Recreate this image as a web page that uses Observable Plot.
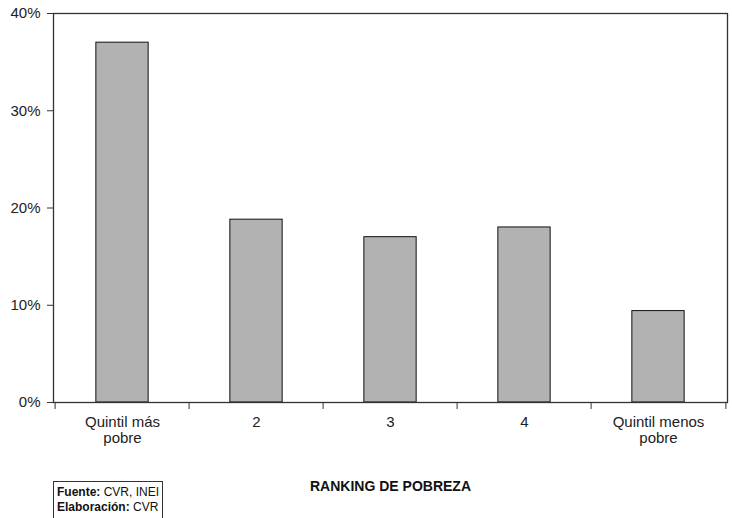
<!DOCTYPE html>
<html><head><meta charset="utf-8">
<script src="https://cdn.jsdelivr.net/npm/d3@7"></script>
<script src="https://cdn.jsdelivr.net/npm/@observablehq/plot@0.6"></script>
<style>
body{margin:0;background:#fff;font-family:"Liberation Sans",Arial,sans-serif;}
#wrap{position:relative;width:732px;height:518px;overflow:hidden;}
#src{position:absolute;left:53px;top:481px;width:105px;border:1px solid #333;padding:3px 0 8px 3px;font-size:12px;line-height:15px;color:#111;}
</style></head><body><div id="wrap"></div>
<script>
const categories = ["Quintil más pobre", "2", "3", "4", "Quintil menos pobre"];
const tickLabels = ["Quintil más\npobre", "2", "3", "4", "Quintil menos\npobre"];
const values = [37.0, 18.8, 17.0, 18.0, 9.4];
const yTicks = [0, 10, 20, 30, 40];
const xTitle = "RANKING DE POBREZA";
const sourceLines = [["Fuente:", " CVR, INEI"], ["Elaboración:", " CVR"]];

const data = categories.map((c, i) => ({cat: c, v: values[i]}));
const W = 732, H = 518, mL = 53, mR = 5, mT = 13, mB = 116;
const band = (W - mL - mR) / categories.length;
const font = "'Liberation Sans', Arial, sans-serif";

const chart = Plot.plot({
  width: W, height: H,
  marginLeft: mL, marginRight: mR, marginTop: mT, marginBottom: mB,
  style: {fontFamily: font, fontSize: "15px", color: "#222", background: "white"},
  x: {domain: categories, padding: 0, axis: null},
  y: {domain: [0, 40], axis: null},
  marks: [
    Plot.barY(data, {x: "cat", y: "v", fill: "#b2b2b2", stroke: "#111", strokeWidth: 1,
      insetLeft: band * 0.303, insetRight: band * 0.303}),
    Plot.frame({stroke: "#333", strokeWidth: 1.3}),
    Plot.axisY({ticks: yTicks, tickFormat: d => d + "%", tickSize: 6, tickPadding: 7, label: null, fontSize: 15, stroke: "#333"}),
    Plot.axisX({tickSize: 0, tickPadding: 13, tickFormat: d => tickLabels[categories.indexOf(d)], label: null, lineHeight: 1.07, fontSize: 15}),
    Plot.axisX({tickSize: 7, tickFormat: () => "", dx: -band / 2, label: null, stroke: "#333"}),
    Plot.axisX({ticks: [categories[categories.length - 1]], tickSize: 7, tickFormat: () => "", dx: band / 2, label: null, stroke: "#333"}),
    Plot.text([xTitle], {text: d => d, frameAnchor: "bottom", dy: 88, fontWeight: "bold", fontSize: 14, fill: "#111"})
  ]
});
const wrap = document.getElementById("wrap");
wrap.appendChild(chart);
const src = document.createElement("div");
src.id = "src";
src.innerHTML = sourceLines.map(([b, t]) => `<b>${b}</b>${t}`).join("<br>");
wrap.appendChild(src);
</script>
</body></html>
